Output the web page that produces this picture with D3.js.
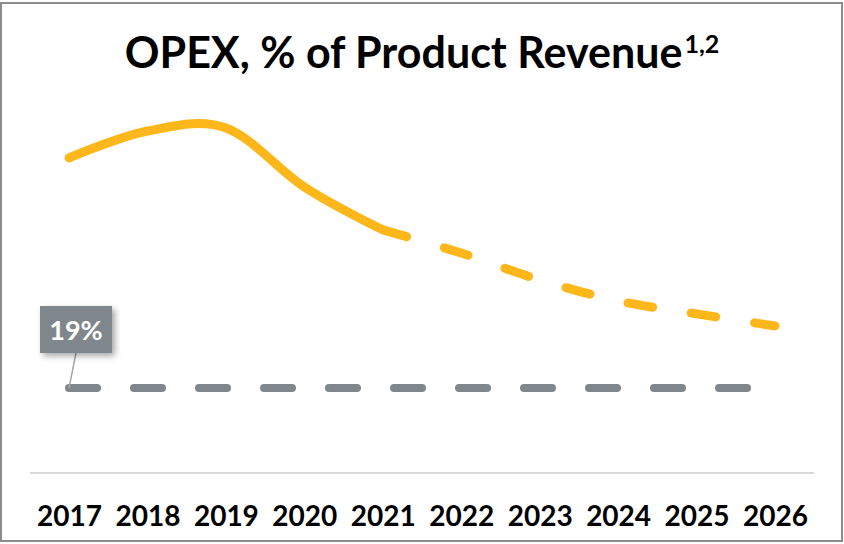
<!DOCTYPE html>
<html>
<head>
<meta charset="utf-8">
<script src="https://cdn.jsdelivr.net/npm/d3@7"></script>
<style>
	body { margin: 0; background: #fff; }
	svg { display: block; font-family: Lato, "Open Sans", sans-serif; }
</style>
</head>
<body>
<div id="idChart"></div>
<script>
var aYears=["2017","2018","2019","2020","2021","2022","2023","2024","2025","2026"];
var aActual=[70.5,76.5,77.2,64.0,54.4];
var aForecast=[54.4,49.2,43.2,38.5,35.6,32.9];
var aTarget=[19,19,19,19,19,19,19,19,19,19];
var sTargetLabel="19%";
var sTitle="OPEX, % of Product Revenue";
var sTitleNote="1,2";

var iWidth=844;
var iHeight=544;

var myCanvas=d3.select("#idChart").append("svg")
	.attr("width",iWidth)
	.attr("height",iHeight);

var myDefs=myCanvas.append("defs");
var myShadow=myDefs.append("filter").attr("id","idShadow")
	.attr("x","-30%").attr("y","-30%").attr("width","160%").attr("height","160%");
myShadow.append("feDropShadow")
	.attr("dx",3).attr("dy",3).attr("stdDeviation",3)
	.attr("flood-color","#000").attr("flood-opacity",0.35);

// frame
myCanvas.append("rect")
	.attr("x",1).attr("y",3)
	.attr("width",841).attr("height",538)
	.attr("fill","none")
	.attr("stroke","#8c8c8c")
	.attr("stroke-width",2);

var xScale=d3.scalePoint()
	.domain(aYears)
	.range([69,775]);

var yScale=d3.scaleLinear()
	.domain([0,100])
	.range([473,26]);

// title
var myTitle=myCanvas.append("text")
	.attr("x",422)
	.attr("y",68)
	.attr("text-anchor","middle")
	.attr("font-size",43)
	.attr("font-weight","bold")
	.attr("fill","#000");
myTitle.append("tspan").text(sTitle);
myTitle.append("tspan")
	.attr("font-size",25)
	.attr("dx",2)
	.attr("dy",-15)
	.text(sTitleNote);

// x axis
var xAxis=d3.axisBottom(xScale).tickSize(0).tickPadding(33);
var myAxis=myCanvas.append("g")
	.attr("transform","translate(0,"+yScale(0)+")")
	.call(xAxis);
myAxis.select(".domain")
	.attr("d","M30,0H814")
	.attr("stroke","#d9d9d9")
	.attr("stroke-width",2);
myAxis.selectAll("text")
	.attr("font-family","Lato, 'Open Sans', sans-serif")
	.attr("font-size",28)
	.attr("font-weight","bold")
	.attr("fill","#000");

var myLine=d3.line()
	.x(function(d,i){return xScale(d.sYear);})
	.y(function(d){return yScale(d.fValue);})
	.curve(d3.curveCardinal.tension(0));

function Pairs(aValues,iStart)
{
	return aValues.map(function(fValue,i){return {sYear:aYears[iStart+i],fValue:fValue};});
}

// target line
myCanvas.append("path")
	.datum(Pairs(aTarget,0))
	.attr("d",d3.line().x(function(d){return xScale(d.sYear);}).y(function(d){return yScale(d.fValue);}))
	.attr("fill","none")
	.attr("stroke","#7f878c")
	.attr("stroke-width",8)
	.attr("stroke-linecap","round")
	.attr("stroke-dasharray","28 37");

// actual
myCanvas.append("path")
	.datum(Pairs(aActual,0))
	.attr("d",myLine)
	.attr("fill","none")
	.attr("stroke","#fdb71a")
	.attr("stroke-width",9)
	.attr("stroke-linecap","round")
	.attr("stroke-linejoin","round");

// forecast
myCanvas.append("path")
	.datum(Pairs(aForecast,4))
	.attr("d",myLine)
	.attr("fill","none")
	.attr("stroke","#fdb71a")
	.attr("stroke-width",9)
	.attr("stroke-linecap","round")
	.attr("stroke-dasharray","25 39");

// target label
var fLabelX=xScale(aYears[0]);
var fLabelY=yScale(aTarget[0]);
myCanvas.append("line")
	.attr("x1",fLabelX+7).attr("y1",353)
	.attr("x2",fLabelX).attr("y2",fLabelY)
	.attr("stroke","#a6a6a6")
	.attr("stroke-width",1.5);
myCanvas.append("rect")
	.attr("x",40).attr("y",306)
	.attr("width",72).attr("height",47)
	.attr("fill","#7f878c")
	.attr("filter","url(#idShadow)");
myCanvas.append("text")
	.attr("x",76).attr("y",340)
	.attr("text-anchor","middle")
	.attr("font-size",27)
	.attr("font-weight","bold")
	.attr("fill","#fff")
	.text(sTargetLabel);
</script>
</body>
</html>
